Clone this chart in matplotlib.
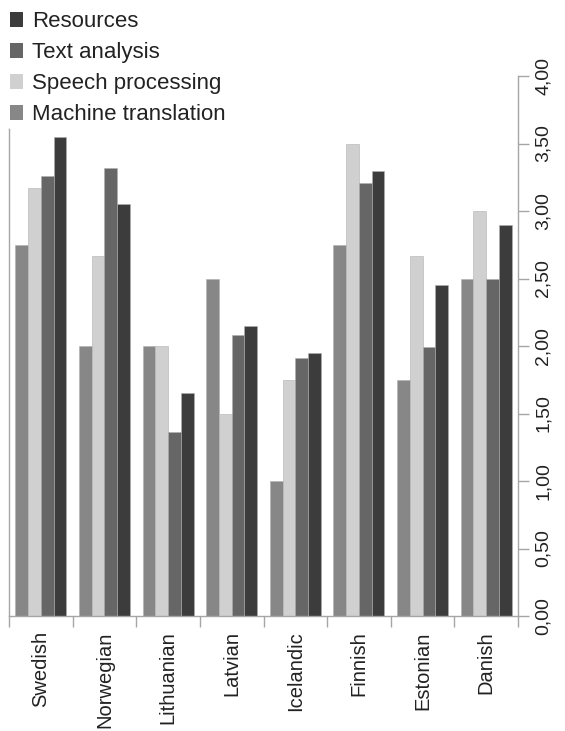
import numpy as np
import matplotlib
matplotlib.use('Agg')
import matplotlib.pyplot as plt
from matplotlib.patches import Patch

plt.rcParams['font.family'] = ['Liberation Sans', 'DejaVu Sans']

# data
languages = ['Swedish', 'Norwegian', 'Lithuanian', 'Latvian', 'Icelandic', 'Finnish', 'Estonian', 'Danish']
machine_translation = [2.75, 2.00, 2.00, 2.50, 1.00, 2.75, 1.75, 2.50]
speech_processing = [3.17, 2.67, 2.00, 1.50, 1.75, 3.50, 2.67, 3.00]
text_analysis = [3.26, 3.32, 1.36, 2.08, 1.91, 3.21, 1.99, 2.50]
resources = [3.55, 3.05, 1.65, 2.15, 1.95, 3.30, 2.45, 2.90]

series_names = ['Machine translation', 'Speech processing', 'Text analysis', 'Resources']
series_values = [machine_translation, speech_processing, text_analysis, resources]
colors = ['#878787', '#d0d0d0', '#666666', '#3c3c3c']
yticks = [0, 0.5, 1.0, 1.5, 2.0, 2.5, 3.0, 3.5, 4.0]

fig = plt.figure(figsize=(5.65, 7.31), dpi=100)
ax = fig.add_axes([9 / 565, 115 / 731, 509 / 565, 540 / 731])

x = np.arange(len(languages))
w = 0.2
for i, (name, vals) in enumerate(zip(series_names, series_values)):
    ax.bar(x + (i - 1.5) * w, vals, width=w, color=colors[i], label=name,
           edgecolor='#b0b0b0', linewidth=0.4)

ax.set_xlim(-0.5, len(languages) - 0.5)
ax.set_ylim(0, 4)

# spines
axis_col = '#a6a6a6'
ax.spines['top'].set_visible(False)
for s in ['left', 'right', 'bottom']:
    ax.spines[s].set_color(axis_col)
    ax.spines[s].set_linewidth(1.0)

# y axis on the right
ax.yaxis.tick_right()
ax.set_yticks(yticks)
ax.set_yticklabels([f'{v:.2f}'.replace('.', ',') for v in yticks], rotation=90,
                   va='center', fontsize=14, color='#222222')
ax.tick_params(axis='y', direction='out', length=8, width=1.0, color=axis_col, pad=4)

# x ticks: labels at centres, tick marks at group borders
ax.set_xticks(x)
ax.set_xticklabels(languages, rotation=90, fontsize=14.5, color='#222222')
ax.tick_params(axis='x', which='major', length=0, pad=11)
ax.set_xticks(np.arange(len(languages) + 1) - 0.5, minor=True)
ax.tick_params(axis='x', which='minor', direction='out', length=8, width=1.0, color=axis_col)

handles = [Patch(facecolor=c) for c in colors][::-1]
leg = fig.legend(handles, series_names[::-1], loc='upper left', bbox_to_anchor=(0.012, 0.989),
                 borderaxespad=0, frameon=True, handlelength=0.6, handleheight=0.6,
                 handletextpad=0.4, labelspacing=0.45, borderpad=0.15,
                 prop={'size': 16})
leg.get_frame().set_facecolor('white')
leg.get_frame().set_edgecolor('none')
leg.get_frame().set_alpha(1.0)
for t in leg.get_texts():
    t.set_color('#222222')

fig.savefig('out.png', dpi=100)
